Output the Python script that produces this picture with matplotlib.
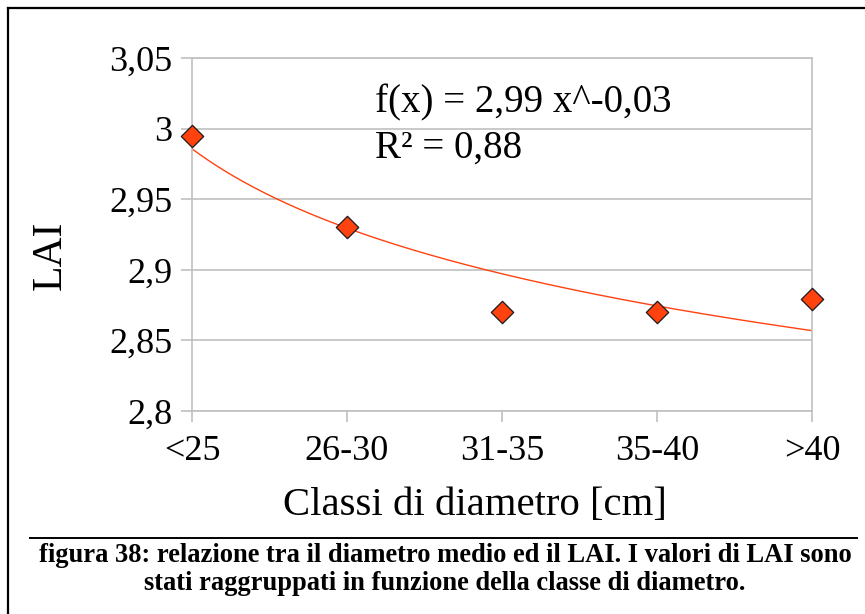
import numpy as np
import matplotlib
matplotlib.use("Agg")
import matplotlib.pyplot as plt
from matplotlib.lines import Line2D

plt.rcParams['font.family'] = ['Liberation Serif', 'DejaVu Serif']

categories = ["<25", "26-30", "31-35", "35-40", ">40"]
lai = [2.995, 2.930, 2.870, 2.870, 2.879]
y_ticks = [2.80, 2.85, 2.90, 2.95, 3.00, 3.05]
y_tick_labels = ["2,8", "2,85", "2,9", "2,95", "3", "3,05"]
equation_line = "f(x) = 2,99 x^-0,03"
r2_line = "R² = 0,88"
x_title = "Classi di diametro [cm]"
y_title = "LAI"
caption_lines = [
    "figura 38: relazione tra il diametro medio ed il LAI. I valori di LAI sono",
    "stati raggruppati in funzione della classe di diametro.",
]

orange = "#ff420e"
grid_gray = "#c0c0c0"

W, H = 865, 614
fig = plt.figure(figsize=(W / 100, H / 100), dpi=100)
ax = fig.add_axes([192 / W, 1 - 411 / H, (812 - 192) / W, (411 - 58) / H])

x = np.arange(1, len(categories) + 1)

# power trendline y = a * x^b fitted in log space
b, ln_a = np.polyfit(np.log(x), np.log(lai), 1)
xs = np.linspace(1, len(categories), 300)
ax.plot(xs, np.exp(ln_a) * xs**b, color=orange, lw=1.0, zorder=2)

ax.scatter(x, lai, marker="D", s=130, color=orange, edgecolor="#1a1a1a",
           linewidth=0.9, zorder=3, clip_on=False)

ax.set_xlim(1, len(categories))
ax.set_ylim(2.80, 3.05)
ax.set_yticks(y_ticks)
ax.set_yticklabels(y_tick_labels)
ax.set_xticks(x)
ax.set_xticklabels(categories)

ax.yaxis.grid(True, color=grid_gray, lw=1.2)
ax.set_axisbelow(True)
for s in ax.spines.values():
    s.set_color(grid_gray)
    s.set_linewidth(1.2)

ax.tick_params(axis="both", colors=grid_gray, labelcolor="black",
               labelsize=26, length=8, width=1.2, direction="out")
ax.tick_params(axis="y", pad=6)
ax.tick_params(axis="x", pad=9)

# trendline equation and R²
ax.text(2.18, 3.018, equation_line, fontsize=28, va="center", ha="left")
ax.text(2.18, 2.986, r2_line, fontsize=28, va="center", ha="left")

fig.text(475 / W, 1 - 505 / H, x_title, fontsize=29.3, ha="center", va="center")
fig.text(50 / W, 1 - 255 / H, y_title, fontsize=30, ha="center", va="center",
         rotation=90)

# frame and caption rule
fig.add_artist(Line2D([8 / W, 8 / W], [0, 1 - 8 / H], color="black", lw=1.6))
fig.add_artist(Line2D([8 / W, 1], [1 - 8 / H, 1 - 8 / H], color="black", lw=1.6))
fig.add_artist(Line2D([30 / W, 857 / W], [1 - 538 / H, 1 - 538 / H],
                      color="black", lw=1.4))

for line, yc in zip(caption_lines, [555, 584]):
    fig.text(445 / W, 1 - yc / H, line, fontsize=19.1, fontweight="bold",
             ha="center", va="center")

fig.savefig("out.png", dpi=100)
